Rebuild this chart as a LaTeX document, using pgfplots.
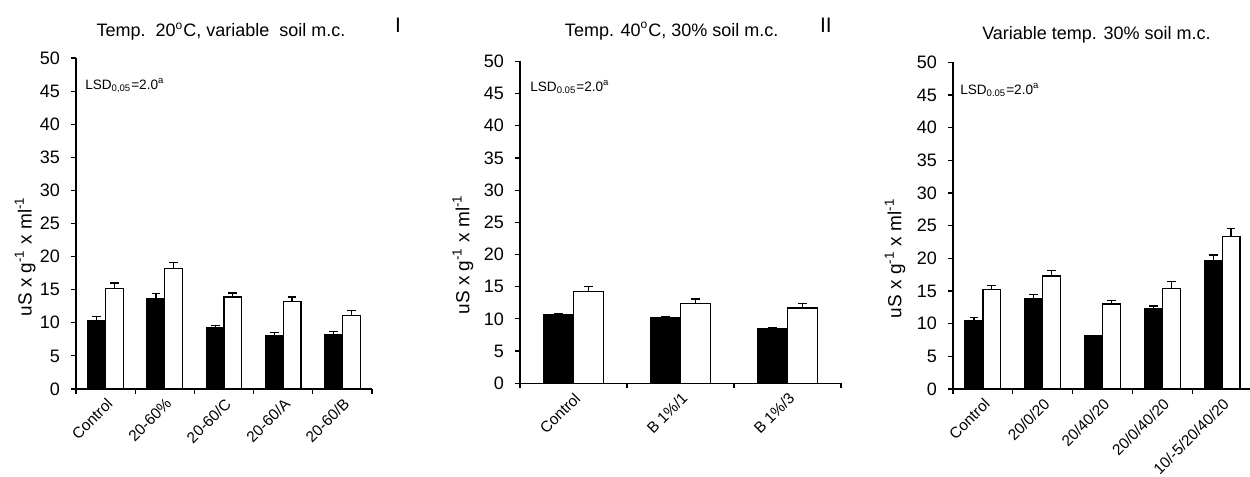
\documentclass[border=0pt]{standalone}
\usepackage{pgfplots}
\pgfplotsset{compat=1.18}
\usepackage{fontspec}
\setmainfont{Liberation Sans}

\pgfplotsset{
  panel/.style={
    scale only axis,
    anchor=south west,
    clip=false,
    axis lines*=left,
    axis line style={line width=0.7pt},
    ymin=0, ymax=50, ytick={0,5,...,50},
    ybar=0pt,
    tick align=outside,
    major tick length=2.5pt,
    every tick/.style={black, line width=0.6pt},
    x tick label as interval,
    /pgf/number format/assume math mode=true,
    yticklabel style={font=\fontsize{9}{10}\selectfont, xshift=-2pt},
    xticklabel style={font=\fontsize{7.7}{9}\selectfont, rotate=45, anchor=north east, inner sep=1pt},
    ylabel={uS x g\textsuperscript{-1} x ml\textsuperscript{-1}},
    ylabel style={font=\fontsize{9.5}{10}\selectfont, anchor=center},
    every axis title shift=0pt,
    title style={font=\fontsize{9}{10}\selectfont, anchor=center},
  },
  errs/.style={
    error bars/y dir=plus, error bars/y explicit,
    error bars/error mark=-,
    error bars/error bar style={line width=0.6pt, black, solid},
    error bars/error mark options={line width=0.6pt, mark size=2.2pt, black, solid, rotate=90}},
  blk/.style={fill=black, draw=black, line width=0.6pt, errs},
  wht/.style={fill=white, draw=black, line width=0.6pt, errs},
}

\newcommand{\lsd}[1]{\fontsize{6.8}{7}\selectfont LSD\textsubscript{#1}=2.0\textsuperscript{a}}

\begin{document}
\begin{tikzpicture}
\useasboundingbox (0,0) rectangle (625pt,238.5pt);

% panel I
\begin{axis}[panel, at={(38pt,44pt)}, width=148pt, height=165.5pt,
  xmin=-0.5, xmax=4.5, xtick={-0.5,0.5,...,4.5},
  xticklabels={Control,20-60\%,20-60/C,20-60/A,20-60/B},
  bar width=0.3,
  ylabel style={at={(axis description cs:-0.172,0.4)}},
  title={Temp.\ \ 20\textsuperscript{o}C, variable\ \ soil m.c.},
  title style={at={(axis description cs:0.49,1.08)}},
]
\addplot[blk, bar shift=-0.15] coordinates {(0,10.3) +- (0,0.6) (1,13.7) +- (0,0.7) (2,9.2) +- (0,0.4) (3,8.0) +- (0,0.5) (4,8.2) +- (0,0.5)};
\addplot[wht, bar shift=0.15] coordinates {(0,15.2) +- (0,0.8) (1,18.2) +- (0,0.9) (2,13.9) +- (0,0.6) (3,13.2) +- (0,0.7) (4,11.1) +- (0,0.7)};
\node[anchor=west, inner sep=0pt] at (axis description cs:0.03,0.918) {\lsd{0,05}};
\node[font=\fontsize{10.5}{12}\selectfont] at (axis description cs:1.088,1.1) {I};
\end{axis}

% panel II
\begin{axis}[panel, at={(260pt,46.85pt)}, width=160.5pt, height=161pt,
  xmin=-0.5, xmax=2.5, xtick={-0.5,0.5,...,2.5},
  xticklabels={Control,B 1\%/1,B 1\%/3},
  bar width=0.28,
  ylabel style={at={(axis description cs:-0.178,0.4)}},
  title={Temp. 40\textsuperscript{o}C, 30\% soil m.c.},
  title style={at={(axis description cs:0.4726,1.094)}},
]
\addplot[blk, bar shift=-0.14] coordinates {(0,10.6) +- (0,0.2) (1,10.2) +- (0,0.15) (2,8.5) +- (0,0.2)};
\addplot[wht, bar shift=0.14] coordinates {(0,14.3) +- (0,0.7) (1,12.45) +- (0,0.65) (2,11.7) +- (0,0.75)};
\node[anchor=west, inner sep=0pt] at (axis description cs:0.031,0.921) {\lsd{0.05}};
\node[font=\fontsize{10.5}{12}\selectfont] at (axis description cs:0.953,1.113) {II};
\end{axis}

% panel III
\begin{axis}[panel, at={(476.5pt,44pt)}, width=149.5pt, height=163.3pt,
  xmin=-0.5, xmax=4.5, xtick={-0.5,0.5,...,4.5},
  xticklabels={Control,20/0/20,20/40/20,20/0/40/20,10/-5/20/40/20},
  bar width=0.3,
  ylabel style={at={(axis description cs:-0.194,0.4)}},
  title={Variable temp. 30\% soil m.c.},
  title style={at={(axis description cs:0.48,1.085)}},
]
\addplot[blk, bar shift=-0.15] coordinates {(0,10.5) +- (0,0.4) (1,13.9) +- (0,0.6) (2,8.1) +- (0,0.1) (3,12.25) +- (0,0.45) (4,19.6) +- (0,0.9)};
\addplot[wht, bar shift=0.15] coordinates {(0,15.2) +- (0,0.7) (1,17.3) +- (0,0.9) (2,13.0) +- (0,0.6) (3,15.4) +- (0,1.0) (4,23.4) +- (0,1.2)};
\node[anchor=west, inner sep=0pt] at (axis description cs:0.023,0.917) {\lsd{0.05}};
\end{axis}
\end{tikzpicture}
\end{document}
